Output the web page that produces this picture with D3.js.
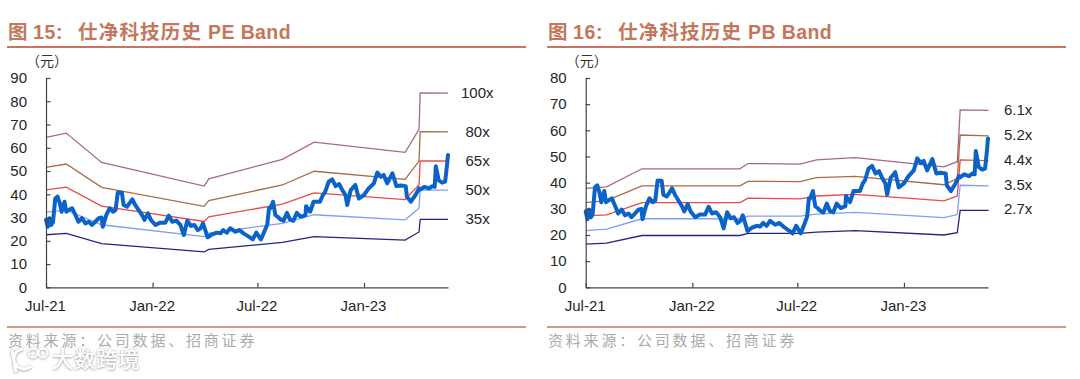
<!DOCTYPE html>
<html><head><meta charset="utf-8">
<script src="https://cdn.jsdelivr.net/npm/d3@7/dist/d3.min.js"></script>
<style>
html,body{margin:0;padding:0;background:#fff;}
svg{display:block;}
text{font-family:"Liberation Sans","Noto Sans CJK SC",sans-serif;}
</style></head><body>
<svg id="c" width="1080" height="379"></svg>
<script>
// days since 2021-07-01
const priceDays=[0,3,6,9,12,16,20,24,27,32,35,39,45,51,56,62,68,74,79,85,91,96,98,104,110,116,120,124,131,134,140,149,154,160,166,170,176,181,189,197,206,212,218,225,232,238,244,250,256,262,267,271,275,279,287,295,301,306,312,318,327,334,341,350,357,363,371,377,382,385,387,392,396,400,405,410,416,421,427,433,440,448,449,456,462,473,478,482,488,494,500,506,511,517,520,526,534,540,549,557,566,572,578,583,589,598,605,612,621,623,630,638,644,646,653,661,667,671,673,678,684,689,692,694];
const price=[29,26,29.7,26.8,28,38.2,39,36,32.5,36.8,32.5,33.2,34,31,28.2,29.7,27.5,28.2,26.8,28.2,29.7,30,26,31,34,32.5,33.2,40.8,40.7,35.4,34.7,37.8,35.4,33.2,31,29,31.8,29,26.8,27.8,27.8,30.8,28.2,28.7,26.8,22.5,28.7,26.4,26.8,24.6,25.4,27.5,24.6,21.5,22.8,23.5,23.2,24.6,23.5,25.4,23.9,24.6,23.2,21.8,20.6,23.5,20.6,24,27,34,33.9,36.8,31,30.3,29.2,28.6,32,29.2,28.6,32,30.3,31,34.9,32.5,36.8,36.8,39.7,41,45.4,46.4,43.5,44.4,42,39.7,35.4,41.8,44,38.2,39.7,42.5,44.7,49.3,47.5,48.3,44.7,49,43.5,43.8,43.5,38.9,36.8,39.7,42.5,42,43.2,42.5,43.5,43.2,52.1,46,45,45.4,51.8,56.9];

const peDays=[0,35,96,273,281,408,463,620,644,646,694];
const pe100=[64.5,66.3,53.7,43.5,46.6,55,62.4,58,67.9,83.6,83.5];
const pe80=[51.6,53,43,34.8,37.3,44,49.9,46.4,54.3,66.9,66.8];
const pe65=[41.9,43.1,34.9,28.3,30.3,35.8,40.6,37.7,44.1,54.3,54.3];
const pe50=[32.3,33.2,26.9,21.8,23.3,27.5,31.2,29,34,41.8,41.8];
const pe35=[22.6,23.2,18.8,15.2,16.3,19.3,21.8,20.3,23.8,29.2,29.2];
const peLabels=["100x","80x","65x","50x","35x"];

const pbDays=[0,36,97,266,280,370,398,465,618,641,646,695];
const pb61=[37.8,38.4,45.3,45.3,47.3,47.1,48.7,49.6,46,48,67.8,67.6];
const pb52=[32.4,33.1,38.8,38.8,40.5,40.4,41.9,42.4,39.2,41.6,58.2,57.9];
const pb44=[27.3,27.7,32.4,32.4,34.1,33.8,34.9,35.5,33,34.9,48.7,48.4];
const pb35=[21.7,22.2,26.2,26.2,27.2,27.2,28,28.6,26.6,27.8,39,38.8];
const pb27=[16.5,16.9,19.8,19.8,20.6,20.6,21.1,21.7,20,20.9,29.4,29.4];
const pbLabels=["6.1x","5.2x","4.4x","3.5x","2.7x"];

const xTickDays=[0,184,365,549];
const xTickLabels=["Jul-21","Jan-22","Jul-22","Jan-23"];
const bandColors=["#a7668f","#a96c45","#e9484c","#7f9ff2","#25257f"];
const priceColor="#0b63c9";
const accent="#c4775a";

const svg=d3.select("#c");

function panel(o){
  const g=svg.append("g");
  const t=g.append("text").attr("y",39).attr("font-size",19.5).attr("font-weight",700).attr("fill",accent);
  t.append("tspan").attr("x",o.left).text("图");
  t.append("tspan").attr("x",o.left+25).attr("letter-spacing",0.6).text(o.fig+":");
  t.append("tspan").attr("x",o.left+70).attr("letter-spacing",1.2).text("仕净科技历史");
  t.append("tspan").attr("x",o.left+200).attr("letter-spacing",0.4).attr("xml:space","preserve").text(o.band);
  g.append("line").attr("x1",o.left-1).attr("x2",o.left+518).attr("y1",47).attr("y2",47)
    .attr("stroke",accent).attr("stroke-width",2);
  g.append("line").attr("x1",o.left-1).attr("x2",o.left+518).attr("y1",327).attr("y2",327)
    .attr("stroke",accent).attr("stroke-width",1.6);
  const s=g.append("text").attr("y",346).attr("font-size",15).attr("fill","#ababab").attr("letter-spacing",2.8);
  s.append("tspan").attr("x",o.left).text("资料来源：");
  s.append("tspan").attr("x",o.left+89).text("公司数据、招商证券");
  g.append("text").attr("x",o.x0-20).attr("y",66).attr("font-size",14).attr("fill","#333").text("（元）");

  const x=d3.scaleLinear().domain([0,694]).range([o.x0,o.x1]);
  const y=d3.scaleLinear().domain([0,o.yMax]).range([287.3,78]);
  const line=d3.line().x(d=>x(d[0])).y(d=>y(d[1]));

  o.bands.forEach((b,i)=>{
    g.append("path").datum(d3.zip(o.bandDays,b)).attr("d",line).attr("fill","none")
      .attr("stroke",bandColors[i]).attr("stroke-width",1.3);
  });
  g.append("path").datum(d3.zip(priceDays,price)).attr("d",line).attr("fill","none")
    .attr("stroke",priceColor).attr("stroke-width",4).attr("stroke-linejoin","round").attr("stroke-linecap","round");

  const ya=g.append("g").attr("transform",`translate(${o.x0},0)`)
    .call(d3.axisLeft(y).tickValues(d3.range(0,o.yMax+1,10)).tickSize(-4.5).tickSizeOuter(0).tickPadding(19).tickFormat(d3.format("d")));
  const xa=g.append("g").attr("transform",`translate(0,287.3)`)
    .call(d3.axisBottom(x).tickValues(xTickDays).tickSize(-4.5).tickSizeOuter(0).tickPadding(13).tickFormat((d,i)=>xTickLabels[i]));
  [ya,xa].forEach(a=>{
    a.selectAll("path,line").attr("stroke","#444").attr("stroke-width",1.2);
    a.selectAll("text").attr("font-size",15).attr("fill","#262626").attr("font-family",'"Liberation Sans",sans-serif');
  });
  xa.selectAll("text").attr("dx",-1);

  o.labels.forEach((t,i)=>{
    g.append("text").attr("x",o.labelX[i]).attr("y",o.labelY[i]).attr("font-size",15)
      .attr("fill","#262626").attr("dominant-baseline","middle").text(t);
  });
}

panel({left:8,fig:"15",band:"PE Band",x0:46,x1:448,yMax:90,bandDays:peDays,
  bands:[pe100,pe80,pe65,pe50,pe35],labels:peLabels,
  labelX:[461,465.5,465.5,465.5,465.5],labelY:[94,133,162,191,220]});
panel({left:548,fig:"16",band:"PB Band",x0:585.7,x1:988,yMax:80,bandDays:pbDays,
  bands:[pb61,pb52,pb44,pb35,pb27],labels:pbLabels,
  labelX:[1004,1004,1004,1004,1004],labelY:[111.5,136,161,186,210.5]});

// watermark
const defs=svg.append("defs");
const f=defs.append("filter").attr("id","halo").attr("x","-20%").attr("y","-30%").attr("width","140%").attr("height","160%");
f.append("feDropShadow").attr("dx",0).attr("dy",0.5).attr("stdDeviation",1).attr("flood-color","#777").attr("flood-opacity",0.9);
const wm=svg.append("g").attr("filter","url(#halo)");
wm.append("text").attr("x",52).attr("y",367).attr("font-size",21.5).attr("font-weight",500)
  .attr("fill","#fff").attr("letter-spacing",0.5).text("大数跨境");
wm.append("path").attr("d","M12 350 L16 372 M23 349 A10 10 0 1 0 31 366").attr("fill","none").attr("stroke","#fff").attr("stroke-width",3);
[[33,353,4.5],[43,353,4.5]].forEach(c=>wm.append("circle").attr("cx",c[0]).attr("cy",c[1]).attr("r",c[2])
  .attr("fill","none").attr("stroke","#fff").attr("stroke-width",1.8));
</script>
</body></html>
